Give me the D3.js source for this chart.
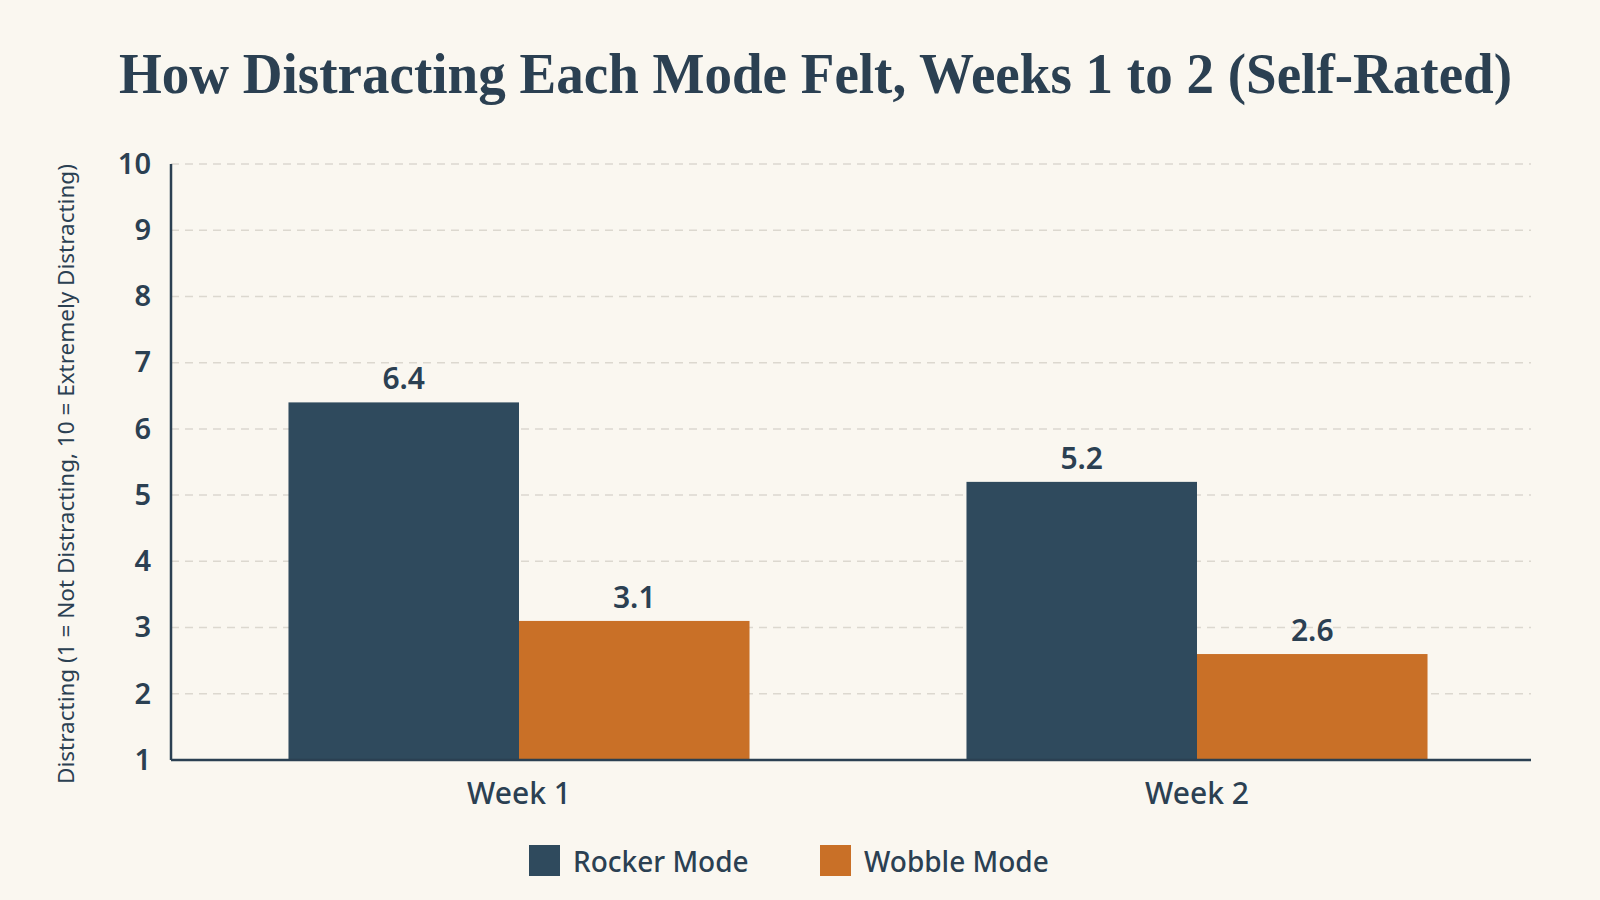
<!DOCTYPE html>
<html lang="en">
	<head>
		<meta charset="UTF-8" />
		<title>How Distracting Each Mode Felt</title>
		<script src="https://d3js.org/d3.v7.min.js"></script>
		<style>
			body { margin: 0; background: #faf7f0; }
			svg { display: block; }
		</style>
	</head>
	<body>
		<script>
			var w = 1600;
			var h = 900;

			// data
			var weeks = ["Week 1", "Week 2"];
			var modes = ["Rocker Mode", "Wobble Mode"];
			var rocker = [6.4, 5.2];
			var wobble = [3.1, 2.6];
			var yTicks = [1, 2, 3, 4, 5, 6, 7, 8, 9, 10];

			var colors = ["#2f4a5d", "#c97027"];
			var ink = "#2b4052";

			var rows = weeks.map(function (wk, i) {
				return { week: wk, values: [rocker[i], wobble[i]] };
			});

			var plotLeft = 171, plotRight = 1531, plotTop = 164, plotBottom = 760;

			var svg = d3.select("body")
				.append("svg")
				.attr("width", w)
				.attr("height", h);

			svg.append("rect")
				.attr("width", w)
				.attr("height", h)
				.attr("fill", "#faf7f0");

			var xScale = d3.scaleBand()
				.domain(weeks)
				.range([180, 1536])
				.paddingInner(0.32)
				.paddingOuter(0.16);

			var xInner = d3.scaleBand()
				.domain(modes)
				.range([0, xScale.bandwidth()]);

			var yScale = d3.scaleLinear()
				.domain([1, 10])
				.range([plotBottom, plotTop]);

			// title
			svg.append("text")
				.attr("x", 119)
				.attr("y", 93)
				.attr("textLength", 1393)
				.attr("lengthAdjust", "spacingAndGlyphs")
				.attr("font-family", "Liberation Serif, serif")
				.attr("font-weight", "bold")
				.attr("font-size", "56px")
				.attr("fill", ink)
				.text("How Distracting Each Mode Felt, Weeks 1 to 2 (Self-Rated)");

			// gridlines
			svg.append("g")
				.selectAll("line")
				.data(yTicks.slice(1))
				.enter()
				.append("line")
				.attr("x1", plotLeft)
				.attr("x2", plotRight)
				.attr("y1", function (d) { return yScale(d); })
				.attr("y2", function (d) { return yScale(d); })
				.attr("stroke", "#dcd8cf")
				.attr("stroke-width", 1.5)
				.attr("stroke-dasharray", "8,6");

			// y axis
			var yAxis = d3.axisLeft(yScale)
				.tickValues(yTicks)
				.tickSize(0)
				.tickPadding(20)
				.tickFormat(d3.format("d"));

			var gy = svg.append("g")
				.attr("transform", "translate(" + plotLeft + ",0)")
				.call(yAxis);
			gy.select(".domain").remove();
			gy.selectAll("text")
				.attr("font-family", "Noto Sans, Open Sans, sans-serif")
				.attr("font-weight", 600)
				.attr("font-size", "29px")
				.attr("fill", ink);

			svg.append("text")
				.attr("transform", "translate(74,474) rotate(-90)")
				.attr("text-anchor", "middle")
				.attr("font-family", "Noto Sans, Open Sans, sans-serif")
				.attr("font-size", "22.5px")
				.attr("fill", ink)
				.text("Distracting (1 = Not Distracting, 10 = Extremely Distracting)");

			// bars
			var groups = svg.selectAll(".grp")
				.data(rows)
				.enter()
				.append("g")
				.attr("class", "grp")
				.attr("transform", function (d) {
					return "translate(" + xScale(d.week) + ",0)";
				});

			groups.selectAll("rect")
				.data(function (d) { return d.values; })
				.enter()
				.append("rect")
				.attr("x", function (d, i) { return xInner(modes[i]); })
				.attr("y", function (d) { return yScale(d); })
				.attr("width", xInner.bandwidth())
				.attr("height", function (d) { return plotBottom - yScale(d); })
				.attr("fill", function (d, i) { return colors[i]; });

			groups.selectAll("text")
				.data(function (d) { return d.values; })
				.enter()
				.append("text")
				.attr("x", function (d, i) { return xInner(modes[i]) + xInner.bandwidth() / 2; })
				.attr("y", function (d) { return yScale(d) - 13; })
				.attr("text-anchor", "middle")
				.attr("font-family", "Noto Sans, Open Sans, sans-serif")
				.attr("font-weight", 600)
				.attr("font-size", "30px")
				.attr("fill", ink)
				.text(function (d) { return d.toFixed(1); });

			// axis lines
			svg.append("line")
				.attr("x1", plotLeft).attr("x2", plotLeft)
				.attr("y1", plotTop).attr("y2", plotBottom)
				.attr("stroke", ink).attr("stroke-width", 2.5);
			svg.append("line")
				.attr("x1", plotLeft).attr("x2", plotRight)
				.attr("y1", plotBottom).attr("y2", plotBottom)
				.attr("stroke", ink).attr("stroke-width", 2.5);

			// x labels
			var xAxis = d3.axisBottom(xScale).tickSize(0).tickPadding(23);
			var gx = svg.append("g")
				.attr("transform", "translate(0," + plotBottom + ")")
				.call(xAxis);
			gx.select(".domain").remove();
			gx.selectAll("text")
				.attr("font-family", "Noto Sans, Open Sans, sans-serif")
				.attr("font-weight", 500)
				.attr("font-size", "30px")
				.attr("fill", ink);

			// legend
			var legendX = [529, 820];
			var legend = svg.selectAll(".leg")
				.data(modes)
				.enter()
				.append("g")
				.attr("class", "leg")
				.attr("transform", function (d, i) {
					return "translate(" + legendX[i] + ",845)";
				});
			legend.append("rect")
				.attr("width", 31)
				.attr("height", 31)
				.attr("fill", function (d, i) { return colors[i]; });
			legend.append("text")
				.attr("x", 44)
				.attr("y", 27)
				.attr("font-family", "Noto Sans, Open Sans, sans-serif")
				.attr("font-weight", 500)
				.attr("font-size", "28px")
				.attr("fill", ink)
				.text(function (d) { return d; });
		</script>
	</body>
</html>
